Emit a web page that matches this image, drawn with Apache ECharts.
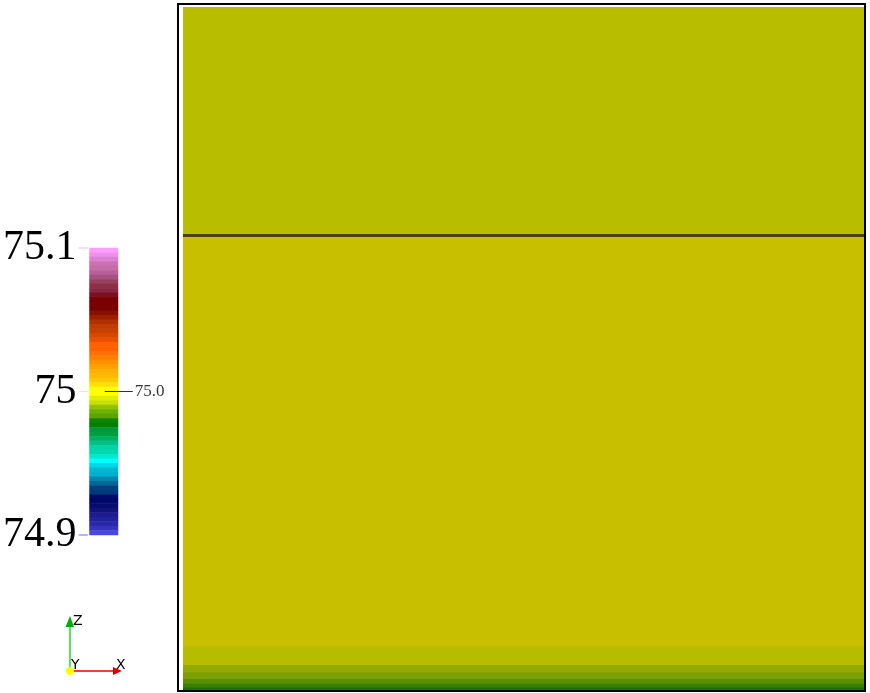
<!DOCTYPE html>
<html>
<head>
<meta charset="utf-8">
<script src="https://cdn.jsdelivr.net/npm/echarts@6/dist/echarts.min.js"></script>
<style>
  html, body { margin: 0; padding: 0; background: #fff; }
  #chart { width: 870px; height: 693px; }
</style>
</head>
<body>
<div id="chart"></div>
<script>
// colour table of the legend, top band first (64 levels)
const bandColors = [
  '#ff9cff', '#ee90ec', '#dd80d2', '#cc70b4', '#c66ca8', '#b86098', '#a85080', '#984060',
  '#8c3048', '#882840', '#7c1020', '#780000', '#780000', '#780000', '#881000', '#9c2000',
  '#b03000', '#c03c00', '#c84000', '#d84800', '#e85000', '#ff6000', '#ff6000', '#ff7000',
  '#ff8000', '#ff9000', '#ffa000', '#ffb000', '#ffb800', '#ffc800', '#ffe000', '#ffff00',
  '#ffff00', '#e0ec00', '#c8e000', '#90c400', '#6cb000', '#5aa400', '#108400', '#008000',
  '#009838', '#00a040', '#00b060', '#00c088', '#00d4a8', '#00d8b0', '#00e8d0', '#00ffff',
  '#00d8e8', '#00b8d0', '#00b0cc', '#0088b0', '#006898', '#004080', '#003a7c', '#000a68',
  '#000868', '#080c70', '#101478', '#1c1c90', '#2020a0', '#2828a8', '#3434c0', '#4848e0'
]
const legendMin = 74.9
const legendMax = 75.1
const legendStep = 0.1
const legendTicks = [74.9, 75.0, 75.1]
const legendTickColors = ['#4848e0', '#ffff00', '#ff99ff']
const markValue = 75.0

// field layers, bottom first: top of each layer (in % of domain height)
const layerTop = [0.37, 0.91, 1.61, 2.56, 3.66, 6.37, 66.55, 100]
const layerColors = ['#1a7000', '#3a8000', '#5a9000', '#7aa000', '#92aa00', '#b6bc00', '#c8bf00', '#b8bd00']
const interfaceHeight = 66.55

const chart = echarts.init(document.getElementById('chart'))

// tallest layer first, each lower layer painted over it (no seams between stacked pieces)
const layerSeries = layerTop.map((top, i) => ({ top, i })).reverse().map(({ top, i }) => {
  const s = {
    type: 'bar',
    xAxisIndex: 2,
    yAxisIndex: 3,
    barWidth: '100%',
    barGap: '-100%',
    silent: true,
    itemStyle: { color: layerColors[i] },
    data: [top]
  }
  if (i === 0) {
    s.markLine = {
      silent: true,
      symbol: 'none',
      label: { show: false },
      lineStyle: { color: '#4a4010', width: 3, type: 'solid' },
      data: [{ yAxis: interfaceHeight }]
    }
  }
  return s
})

const legendCells = bandColors.map((c, i) => ({ value: [0, i, i], itemStyle: { color: c } }))

chart.setOption({
  animation: false,
  grid: [
    { left: 88, top: 248, width: 30, height: 287 },
    { left: 178, top: 4, width: 687, height: 687, show: true, borderColor: '#000', borderWidth: 2, backgroundColor: 'transparent' },
    { left: 183, top: 7, width: 681, height: 683 }
  ],
  xAxis: [
    { gridIndex: 0, type: 'category', data: ['legend'], show: false },
    { gridIndex: 1, type: 'value', min: 0, max: 1, show: false },
    { gridIndex: 2, type: 'category', data: ['field'], show: false }
  ],
  yAxis: [
    { gridIndex: 0, type: 'category', inverse: true, data: bandColors.map((c, i) => i), show: false },
    {
      gridIndex: 0, type: 'value', min: legendMin, max: legendMax, interval: legendStep,
      position: 'left',
      axisLine: { show: false }, axisTick: { show: false }, splitLine: { show: false },
      axisLabel: {
        margin: 13, color: '#000', fontFamily: 'Liberation Serif', fontSize: 42,
        formatter: v => String(Math.round(v * 10) / 10)
      }
    },
    { gridIndex: 1, type: 'value', min: 0, max: 1, show: false },
    { gridIndex: 2, type: 'value', min: 0, max: 100, show: false }
  ],
  series: [
    {
      type: 'heatmap',
      xAxisIndex: 0,
      yAxisIndex: 0,
      silent: true,
      data: legendCells
    },
    {
      type: 'scatter',
      xAxisIndex: 0,
      yAxisIndex: 1,
      silent: true,
      symbol: 'rect',
      symbolSize: [9, 1],
      symbolOffset: [-20.5, 0],
      data: legendTicks.map((t, i) => ({ value: [0, t], itemStyle: { color: legendTickColors[i] } }))
    },
    {
      type: 'scatter',
      xAxisIndex: 0,
      yAxisIndex: 1,
      silent: true,
      symbol: 'rect',
      symbolSize: [28, 1],
      symbolOffset: [15, 0],
      itemStyle: { color: '#000' },
      label: {
        show: true, position: 'right', distance: 2,
        formatter: () => markValue.toFixed(1),
        color: '#000', fontFamily: 'Liberation Serif', fontSize: 17
      },
      data: [[0, markValue]]
    },
    ...layerSeries
  ],
  graphic: [
    { type: 'line', shape: { x1: 70, y1: 671, x2: 70, y2: 624 }, style: { stroke: '#22dd22', lineWidth: 1.5 }, silent: true },
    { type: 'polygon', shape: { points: [[70, 616], [65.5, 627], [74, 627]] }, style: { fill: '#00b000' }, silent: true },
    { type: 'line', shape: { x1: 70, y1: 671, x2: 114, y2: 671 }, style: { stroke: '#ee0000', lineWidth: 1.5 }, silent: true },
    { type: 'polygon', shape: { points: [[122, 671], [113, 667], [113, 675]] }, style: { fill: '#dd0000' }, silent: true },
    { type: 'circle', shape: { cx: 70, cy: 671, r: 4 }, style: { fill: '#ffff00' }, silent: true },
    { type: 'text', x: 73, y: 614, style: { text: 'Z', fill: '#000', font: '14px "DejaVu Sans"' }, silent: true },
    { type: 'text', x: 71, y: 658, style: { text: 'Y', fill: '#000', font: '14px "DejaVu Sans"' }, silent: true },
    { type: 'text', x: 116, y: 658, style: { text: 'X', fill: '#000', font: '14px "DejaVu Sans"' }, silent: true }
  ]
})
</script>
</body>
</html>
